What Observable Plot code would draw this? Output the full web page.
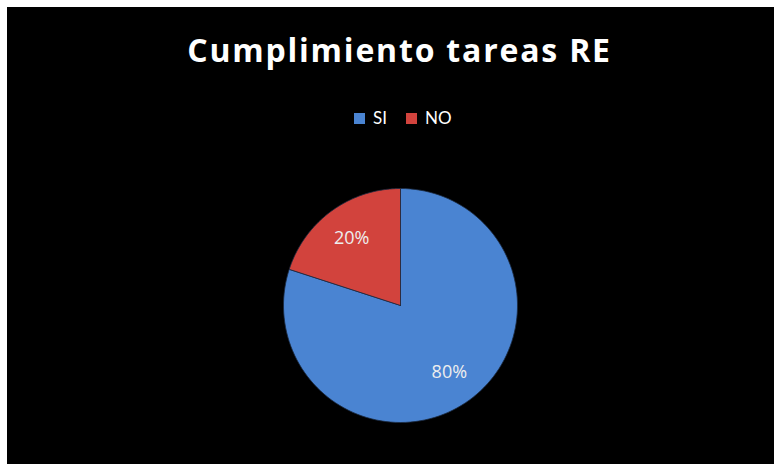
<!DOCTYPE html>
<html><head><meta charset="utf-8">
<script src="https://cdn.jsdelivr.net/npm/d3@7"></script>
<script src="https://cdn.jsdelivr.net/npm/@observablehq/plot@0.6"></script>
<style>
html,body{margin:0;padding:0;background:#fff;width:774px;height:464px;overflow:hidden;}
#box{position:absolute;left:7px;top:7px;width:767px;height:457px;background:#000;font-family:"Open Sans",Lato,sans-serif;}
#title{position:absolute;left:9px;width:767px;top:23px;text-align:center;color:#fff;font-weight:bold;font-size:32px;line-height:40px;letter-spacing:1.8px;}
#legend{position:absolute;left:347px;top:101px;color:#fff;font-family:Lato,"Open Sans",sans-serif;font-size:17px;line-height:20px;display:flex;align-items:center;}
#legend span.sw{display:inline-block;width:11px;height:11px;margin-right:8px;}
#legend span.it{display:flex;align-items:center;margin-right:19px;}
#chart{position:absolute;left:0;top:140px;}
</style></head>
<body>
<div id="box">
<div id="title">Cumplimiento tareas RE</div>
<div id="legend"></div>
<div id="chart"></div>
</div>
<script>
const categories = ["SI", "NO"];
const values = [80, 20];
const labels = ["80%", "20%"];
const colors = ["#4a84d2", "#d2433d"];

const W = 767, H = 317, R = 117, cx = 393, cy = 158;

const arcs = d3.pie().sort(null)(values);
const poly = [];
const labs = [];
arcs.forEach((a, i) => {
  poly.push({k: categories[i], x: 0, y: 0});
  const n = 120;
  for (let j = 0; j <= n; j++) {
    const t = a.startAngle + (a.endAngle - a.startAngle) * j / n;
    poly.push({k: categories[i], x: Math.sin(t), y: Math.cos(t)});
  }
  poly.push({k: categories[i], x: 0, y: 0});
  const m = (a.startAngle + a.endAngle) / 2;
  labs.push({k: categories[i], label: labels[i], x: 0.71 * Math.sin(m), y: 0.71 * Math.cos(m)});
});

const legend = document.getElementById("legend");
categories.forEach((c, i) => {
  const s = document.createElement("span");
  s.className = "it";
  s.innerHTML = `<span class="sw" style="background:${colors[i]}"></span>${c}`;
  legend.appendChild(s);
});

const plot = Plot.plot({
  width: W, height: H,
  margin: 0,
  x: {domain: [-cx / R, (W - cx) / R], axis: null},
  y: {domain: [-(H - cy) / R, cy / R], axis: null},
  color: {domain: categories, range: colors},
  style: {background: "transparent"},
  marks: [
    Plot.line(poly, {x: "x", y: "y", z: "k", fill: "k", stroke: "#1a2a40", strokeWidth: 0.8, curve: "linear"}),
    Plot.text(labs, {x: "x", y: "y", text: "label", fill: "#eeeeee", fontSize: 18, fontFamily: "'Open Sans', Lato, sans-serif"})
  ]
});
document.getElementById("chart").appendChild(plot);
</script>
</body></html>
